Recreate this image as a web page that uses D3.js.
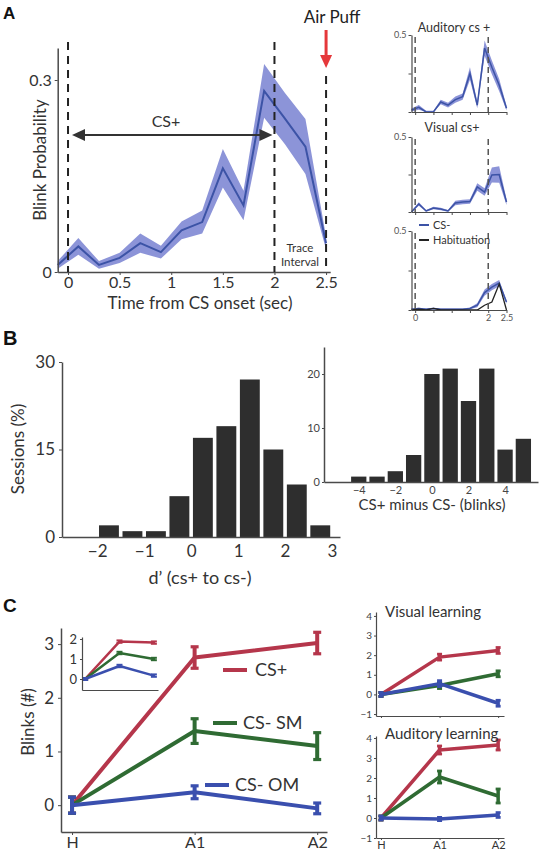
<!DOCTYPE html>
<html><head><meta charset="utf-8">
<script src="https://cdn.jsdelivr.net/npm/d3@7"></script>
<style>
body{margin:0;background:#fff;}
svg{display:block;font-family:Lato,"Open Sans",sans-serif;}
</style></head><body>
<svg id="fig" width="540" height="852"></svg>
<script>
// ---------- DATA ----------
const timeA = [-0.1,0.1,0.3,0.5,0.7,0.9,1.1,1.3,1.5,1.7,1.9,2.1,2.3,2.5];
const csPlusProb = [0.011,0.040,0.011,0.022,0.045,0.031,0.065,0.078,0.162,0.104,0.283,0.240,0.196,0.045];
const csPlusSem  = [0.006,0.013,0.006,0.008,0.015,0.010,0.014,0.018,0.030,0.023,0.042,0.040,0.043,0.010];
const auditoryProb = [0.013,0.030,0.0,0.0,0.065,0.045,0.080,0.100,0.250,0.045,0.415,0.290,0.175,0.025];
const auditorySem  = [0.010,0.015,0.008,0.008,0.015,0.015,0.020,0.020,0.040,0.020,0.050,0.045,0.040,0.015];
const visualProb = [0.0,0.053,0.007,0.027,0.020,0.007,0.060,0.067,0.070,0.167,0.133,0.247,0.250,0.067];
const visualSem  = [0.006,0.012,0.006,0.008,0.008,0.006,0.015,0.015,0.015,0.025,0.025,0.050,0.055,0.020];
const csMinusProb = [0.005,0.010,0.005,0.010,0.005,0.005,0.005,0.005,0.010,0.030,0.110,0.145,0.170,0.050];
const csMinusSem  = [0.004,0.005,0.004,0.005,0.004,0.004,0.004,0.004,0.006,0.012,0.020,0.020,0.020,0.010];
const habituationProb = [0.0,0.005,0.0,0.010,0.0,0.0,0.0,0.0,0.0,0.0,0.030,0.050,0.165,0.0];
const timeTicks = [0,0.5,1,1.5,2,2.5];

const dPrimeBins = [-1.75,-1.25,-0.75,-0.25,0.25,0.75,1.25,1.75,2.25,2.75];
const dPrimePct  = [2,1,1,7,17,19,27,15,9,2];
const dPrimeTicks = [-2,-1,0,1,2,3];
const diffBins = [-4,-3,-2,-1,0,1,2,3,4,5];
const diffPct  = [1,1,2,5,20,21,15,21,6,8];
const diffTicks = [-4,-2,0,2,4];

const phases = ["H","A1","A2"];
const csPlusBlinks = [0,2.75,3.02];  const csPlusErr = [0.15,0.2,0.2];
const csMinusSM    = [0,1.38,1.10];  const smErr     = [0.15,0.23,0.25];
const csMinusOM    = [0,0.24,-0.06]; const omErr     = [0.15,0.12,0.10];
const insetPlus = [0,1.87,1.82], insetSM = [0,1.3,1.0], insetOM = [0,0.65,0.17];
const visPlus = [0,1.9,2.24],  visPlusErr = [0.1,0.15,0.15];
const visSM   = [0,0.45,1.05], visSMErr   = [0.1,0.15,0.15];
const visOM   = [0,0.55,-0.45],visOMErr   = [0.1,0.15,0.15];
const audPlus = [0,3.4,3.65],  audPlusErr = [0.1,0.2,0.25];
const audSM   = [0,2.05,1.1],  audSMErr   = [0.1,0.3,0.35];
const audOM   = [0,-0.05,0.15],audOMErr   = [0.1,0.08,0.12];

// ---------- STYLE ----------
const FONT = "Lato, 'Open Sans', sans-serif";
const AX = "#4a4a4a", TXT = "#333";
const BAND = "#7f88d4", LINE = "#3c53a6";
const RED = "#b5364b", GREEN = "#2f6b33", BLUE = "#3a4fae", BAR = "#2e2e2e";
const fmtInt = d3.format("d");
const fmtSigned = d => d<0 ? "\u2212"+(-d) : String(d);

const svg = d3.select("#fig");
svg.append("rect").attr("width",540).attr("height",852).attr("fill","#fff");

function styleAxis(g, fs, opts={}){
  g.attr("font-family", FONT).attr("font-size", fs);
  g.select(".domain").attr("stroke", AX).attr("stroke-width", opts.dw||1.5);
  g.selectAll(".tick line").attr("stroke", AX).attr("stroke-width", 1);
  g.selectAll(".tick text").attr("fill", opts.color||TXT);
}
function label(x,y,txt,fs,opts={}){
  const t = svg.append("text").attr("x",x).attr("y",y).text(txt)
    .attr("font-size",fs).attr("font-family",opts.family||FONT)
    .attr("fill",opts.fill||TXT).attr("text-anchor",opts.anchor||"start");
  if(opts.weight) t.attr("font-weight",opts.weight);
  if(opts.rotate) t.attr("transform",`rotate(${opts.rotate},${x},${y})`);
  return t;
}
function bandLine(g, x, y, mean, sem, lw){
  const d = timeA.map((t,i)=>({t, m:mean[i], s:sem?sem[i]:0}));
  if(sem) g.append("path").datum(d)
    .attr("d", d3.area().x(p=>x(p.t)).y0(p=>y(Math.max(0,p.m-p.s))).y1(p=>y(p.m+p.s)))
    .attr("fill", BAND).attr("opacity",0.9);
  g.append("path").datum(d).attr("d", d3.line().x(p=>x(p.t)).y(p=>y(p.m)))
    .attr("fill","none").attr("stroke",LINE).attr("stroke-width",lw);
}
function dashV(g, x, y1, y2, color, w, dash){
  g.append("line").attr("x1",x).attr("x2",x).attr("y1",y1).attr("y2",y2)
    .attr("stroke",color).attr("stroke-width",w).attr("stroke-dasharray",dash);
}

// ---------- PANEL A main ----------
label(3,19,"A",17,{weight:"bold",family:"'Liberation Sans',Arial,sans-serif",fill:"#111"});
const xA = d3.scaleLinear().domain([-0.1,2.54]).range([57.7,330.2]);
const yA = d3.scaleLinear().domain([0,0.35]).range([272,48]);
const gA = svg.append("g");
bandLine(gA, xA, yA, csPlusProb, csPlusSem, 2);
gA.append("g").attr("transform","translate(57.7,0)")
  .call(d3.axisLeft(yA).tickValues([0,0.3]).tickFormat(d=>d===0?"0":"0.3").tickSize(3).tickPadding(3).tickSizeOuter(0))
  .call(g=>styleAxis(g,16));
gA.append("g").attr("transform","translate(0,272)")
  .call(d3.axisBottom(xA).tickValues(timeTicks).tickFormat(d=>String(d)).tickSize(3).tickPadding(2).tickSizeOuter(0))
  .call(g=>styleAxis(g,16));
dashV(gA, xA(0), 42, 272, "#222", 2, "8,6");
dashV(gA, xA(2), 42, 272, "#222", 2, "8,6");
dashV(gA, xA(2.5), 76, 272, "#222", 2, "8,6");
// CS+ arrow
const ay = 135, axL = xA(0)+4, axR = xA(2)-2;
gA.append("line").attr("x1",axL+10).attr("x2",axR-10).attr("y1",ay).attr("y2",ay).attr("stroke","#333").attr("stroke-width",2);
gA.append("path").attr("d",`M${axL},${ay} L${axL+13},${ay-6} L${axL+13},${ay+6} Z`).attr("fill","#333");
gA.append("path").attr("d",`M${axR},${ay} L${axR-13},${ay-6} L${axR-13},${ay+6} Z`).attr("fill","#333");
label(166,127,"CS+",16,{anchor:"middle"});
// Air puff
const px = xA(2.5);
gA.append("line").attr("x1",px).attr("x2",px).attr("y1",30).attr("y2",58).attr("stroke","#e5383b").attr("stroke-width",3);
gA.append("path").attr("d",`M${px},${68} L${px-6},${55} L${px+6},${55} Z`).attr("fill","#e5383b");
label(332,23,"Air Puff",17,{anchor:"middle",fill:"#222"});
label(300,252,"Trace",11.5,{anchor:"middle"});
label(300,266,"Interval",11.5,{anchor:"middle"});
label(46,160,"Blink Probability",17,{anchor:"middle",rotate:-90});
label(200,309,"Time from CS onset (sec)",17,{anchor:"middle"});

// ---------- PANEL A insets ----------
const xI = d3.scaleLinear().domain([-0.1,2.5]).range([411.5,506.5]);
function inset(yTop, yBot, drawFn, xLabels){
  const y = d3.scaleLinear().domain([0,0.5]).range([yBot,yTop]);
  const g = svg.append("g");
  drawFn(g, y);
  g.append("g").attr("transform",`translate(${xI(-0.1)},0)`)
    .call(d3.axisLeft(y).tickValues([0,0.25,0.5]).tickFormat(d=>d===0.5?"0.5":"").tickSize(3).tickPadding(2).tickSizeOuter(0))
    .call(gg=>styleAxis(gg,9,{dw:1.2,color:"#555"}));
  g.append("g").attr("transform",`translate(0,${yBot})`)
    .call(d3.axisBottom(xI).tickValues(timeTicks).tickFormat(d=>xLabels&&[0,2,2.5].includes(d)?String(d):"").tickSize(3).tickPadding(2).tickSizeOuter(0))
    .call(gg=>styleAxis(gg,9,{dw:1.2,color:"#555"}));
  dashV(g, xI(0), yTop+2, yBot, "#555", 1.5, "6,4");
  dashV(g, xI(2), yTop+2, yBot, "#555", 1.5, "6,4");
  return y;
}
inset(35,112,(g,y)=>bandLine(g,xI,y,auditoryProb,auditorySem,1.5),false);
label(454,32,"Auditory cs +",12.5,{anchor:"middle"});
inset(137,212,(g,y)=>bandLine(g,xI,y,visualProb,visualSem,1.5),false);
label(452,132,"Visual cs+",12.5,{anchor:"middle"});
inset(231,310,(g,y)=>{
  bandLine(g,xI,y,csMinusProb,csMinusSem,1.5);
  g.append("path").datum(habituationProb).attr("d",d3.line().x((d,i)=>xI(timeA[i])).y(d=>y(d)))
    .attr("fill","none").attr("stroke","#222").attr("stroke-width",1.3);
},true);
svg.append("line").attr("x1",419).attr("x2",429).attr("y1",225).attr("y2",225).attr("stroke",LINE).attr("stroke-width",2);
svg.append("line").attr("x1",419).attr("x2",429).attr("y1",240).attr("y2",240).attr("stroke","#222").attr("stroke-width",2);
label(433,229,"CS-",11);
label(433,244,"Habituation",11);

// ---------- PANEL B left ----------
label(3,345,"B",20,{weight:"bold",family:"'Liberation Sans',Arial,sans-serif",fill:"#111"});
const xB = d3.scaleLinear().domain([-2.75,3.17]).range([62,340]);
const yB = d3.scaleLinear().domain([0,30]).range([537,362]);
const gB = svg.append("g");
gB.selectAll("rect").data(dPrimeBins).join("rect")
  .attr("x",d=>xB(d-0.25)+1.8).attr("width",d=>xB(d+0.25)-xB(d-0.25)-3.6)
  .attr("y",(d,i)=>yB(dPrimePct[i])).attr("height",(d,i)=>yB(0)-yB(dPrimePct[i]))
  .attr("fill",BAR);
gB.append("g").attr("transform","translate(62,0)")
  .call(d3.axisLeft(yB).tickValues([0,15,30]).tickSize(3).tickPadding(4).tickSizeOuter(0))
  .call(g=>styleAxis(g,17));
gB.append("g").attr("transform","translate(0,537)")
  .call(d3.axisBottom(xB).tickValues(dPrimeTicks).tickFormat(fmtSigned).tickSize(0).tickPadding(8).tickSizeOuter(0))
  .call(g=>styleAxis(g,17));
label(24,449,"Sessions (%)",17,{anchor:"middle",rotate:-90});
label(200,584,"d\u2019 (cs+ to cs-)",18,{anchor:"middle"});

// ---------- PANEL B right ----------
const xR = d3.scaleLinear().domain([-5.9,5.8]).range([324,538]);
const yR = d3.scaleLinear().domain([0,25]).range([482,347]);
const gR = svg.append("g");
gR.selectAll("rect").data(diffBins).join("rect")
  .attr("x",d=>xR(d-0.5)+1.5).attr("width",d=>xR(d+0.5)-xR(d-0.5)-3)
  .attr("y",(d,i)=>yR(diffPct[i])).attr("height",(d,i)=>yR(0)-yR(diffPct[i]))
  .attr("fill",BAR);
gR.append("g").attr("transform","translate(324,0)")
  .call(d3.axisLeft(yR).tickValues([0,10,20]).tickFormat(fmtInt).tickSize(2).tickPadding(2).tickSizeOuter(0))
  .call(g=>styleAxis(g,11,{color:"#444"}));
gR.append("g").attr("transform","translate(0,482)")
  .call(d3.axisBottom(xR).tickValues(diffTicks).tickFormat(fmtSigned).tickSize(0).tickPadding(4).tickSizeOuter(0))
  .call(g=>styleAxis(g,11,{color:"#444"}));
label(432,510,"CS+ minus CS- (blinks)",15,{anchor:"middle"});

// ---------- PANEL C ----------
label(3,612,"C",19,{weight:"bold",family:"'Liberation Sans',Arial,sans-serif",fill:"#111"});
function series(g, x, y, vals, errs, color, lw, cap, ew){
  g.append("path").datum(vals).attr("d",d3.line().x((d,i)=>x(i)).y(d=>y(d)))
    .attr("fill","none").attr("stroke",color).attr("stroke-width",lw).attr("stroke-linejoin","round");
  if(!errs) return;
  vals.forEach((v,i)=>{
    const cx = x(i), y1 = y(v-errs[i]), y2 = y(v+errs[i]);
    g.append("line").attr("x1",cx).attr("x2",cx).attr("y1",y1).attr("y2",y2).attr("stroke",color).attr("stroke-width",ew);
    [y1,y2].forEach(yy=>g.append("line").attr("x1",cx-cap).attr("x2",cx+cap).attr("y1",yy).attr("y2",yy).attr("stroke",color).attr("stroke-width",ew*0.8));
  });
}
const xC = d3.scaleLinear().domain([-0.09,2.08]).range([61,327]);
const yC = d3.scaleLinear().domain([-0.5,3.3]).range([832,628]);
const gC = svg.append("g");
series(gC,xC,yC,csPlusBlinks,csPlusErr,RED,4,4,4);
series(gC,xC,yC,csMinusSM,smErr,GREEN,4,4,4);
series(gC,xC,yC,csMinusOM,omErr,BLUE,4,4,4);
gC.append("g").attr("transform","translate(61,0)")
  .call(d3.axisLeft(yC).tickValues([0,1,2,3]).tickFormat(fmtInt).tickSize(3).tickPadding(4).tickSizeOuter(0))
  .call(g=>styleAxis(g,17));
gC.append("g").attr("transform","translate(0,832)")
  .call(d3.axisBottom(xC).tickValues([0,1,2]).tickFormat(i=>phases[i]).tickSize(3).tickPadding(2).tickSizeOuter(0))
  .call(g=>styleAxis(g,16));
label(34,722,"Blinks (#)",17,{anchor:"middle",rotate:-90});
[[RED,223,670,"CS+",255,676],[GREEN,213,723,"CS- SM",243,729],[BLUE,205,785,"CS- OM",235,791]].forEach(([c,x,y,t,tx,ty])=>{
  svg.append("line").attr("x1",x).attr("x2",x+24).attr("y1",y).attr("y2",y).attr("stroke",c).attr("stroke-width",4);
  label(tx,ty,t,18);
});
// inset
const xCi = d3.scaleLinear().domain([-0.09,2.12]).range([82,158]);
const yCi = d3.scaleLinear().domain([-0.55,2.1]).range([690,637]);
const gCi = svg.append("g");
const insErr = [0.05,0.06,0.06];
series(gCi,xCi,yCi,insetPlus,insErr,RED,2.5,3,2.5);
series(gCi,xCi,yCi,insetSM,insErr,GREEN,2.5,3,2.5);
series(gCi,xCi,yCi,insetOM,insErr,BLUE,2.5,3,2.5);
gCi.append("g").attr("transform","translate(82,0)")
  .call(d3.axisLeft(yCi).tickValues([0,1,2]).tickFormat(fmtInt).tickSize(2).tickPadding(3).tickSizeOuter(0))
  .call(g=>styleAxis(g,13,{dw:1.2}));
gCi.append("g").attr("transform","translate(0,690)")
  .call(d3.axisBottom(xCi).tickValues([]).tickSizeOuter(0))
  .call(g=>styleAxis(g,10,{dw:1.2}));

// right panels
const xV = d3.scaleLinear().domain([-0.085,2.1]).range([376,504]);
function smallPanel(yScale, yBot, p, s, o, pe, se, oe, showLabels){
  const g = svg.append("g");
  series(g,xV,yScale,p,pe,RED,3.5,2.5,3.5);
  series(g,xV,yScale,s,se,GREEN,3.5,2.5,3.5);
  series(g,xV,yScale,o,oe,BLUE,3.5,2.5,3.5);
  g.append("g").attr("transform","translate(376,0)")
    .call(d3.axisLeft(yScale).tickValues([-1,0,1,2,3,4]).tickFormat(fmtSigned).tickSize(2).tickPadding(2).tickSizeOuter(0))
    .call(gg=>styleAxis(gg,10,{dw:1.2,color:"#444"}));
  g.append("g").attr("transform",`translate(0,${yBot})`)
    .call(d3.axisBottom(xV).tickValues([0,1,2]).tickFormat(i=>showLabels?phases[i]:"").tickSize(2).tickPadding(1).tickSizeOuter(0))
    .call(gg=>styleAxis(gg,11,{dw:1.2,color:"#333"}));
}
const yVis = d3.scaleLinear().domain([-1.1,4.2]).range([716,612]);
smallPanel(yVis,716,visPlus,visSM,visOM,visPlusErr,visSMErr,visOMErr,false);
label(385,617,"Visual learning",15);
const yAud = d3.scaleLinear().domain([-1,4.1]).range([838,736]);
smallPanel(yAud,838,audPlus,audSM,audOM,audPlusErr,audSMErr,audOMErr,true);
label(385,739,"Auditory learning",15);
</script>
</body></html>
